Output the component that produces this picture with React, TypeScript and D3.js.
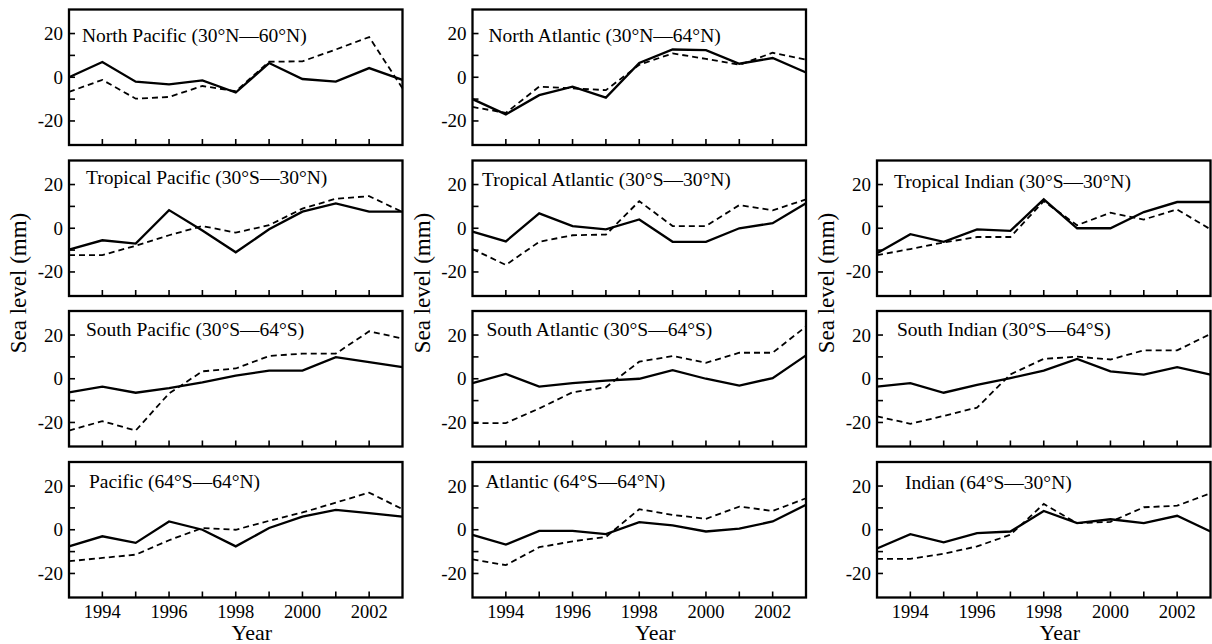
import React from "react";
import * as d3 from "d3";

// ---------- data ----------
const years = [1993, 1994, 1995, 1996, 1997, 1998, 1999, 2000, 2001, 2002, 2003];
const yearTickLabels = [1994, 1996, 1998, 2000, 2002];
const yTickValues = [-20, -10, 0, 10, 20];
const yTickLabels = [-20, 0, 20];

const northPacificSolid = [0, 7, -2, -3.3, -1.4, -7, 6.5, -0.8, -2, 4.2, -1.2];
const northPacificDashed = [-6.7, -1.2, -9.8, -9, -4, -6.4, 7.1, 7.3, 12.7, 18.4, -5.1];
const northAtlanticSolid = [-10, -17, -8.2, -4.3, -9.3, 6.5, 12.7, 12.4, 6.2, 8.8, 2.2];
const northAtlanticDashed = [-13.6, -16.3, -4.3, -5.1, -5.9, 5.7, 10.9, 8.4, 5.7, 11.2, 8.1];
const tropicalPacificSolid = [-9.8, -5.5, -7, 8.3, -1, -11, -0.5, 7.6, 11.4, 7.6, 7.6];
const tropicalPacificDashed = [-12.3, -12.3, -8, -3.2, 1, -2, 1.4, 9, 13.5, 14.7, 7.4];
const tropicalAtlanticSolid = [-1.5, -6, 6.8, 1, -0.5, 4, -6.2, -6.2, 0, 2.3, 11.4];
const tropicalAtlanticDashed = [-9.5, -16.8, -6.2, -3.2, -2.9, 12.4, 1, 1, 10.6, 8.2, 13.2];
const tropicalIndianSolid = [-11.4, -2.7, -6.2, -0.5, -1.2, 13.2, 0, 0, 7.4, 12, 12];
const tropicalIndianDashed = [-12.3, -9.5, -6.5, -4, -4, 12.4, 1.4, 7.1, 4, 8.6, -0.5];
const southPacificSolid = [-6.2, -3.6, -6.4, -4.3, -1.7, 1.4, 3.7, 3.7, 9.9, 7.6, 5.3];
const southPacificDashed = [-23.7, -19.4, -23.7, -6.7, 3.4, 4.7, 10.4, 11.5, 11.5, 21.7, 18.4];
const southAtlanticSolid = [-2, 2.2, -3.6, -2, -0.9, 0, 3.9, 0, -3.1, 0.3, 10.7];
const southAtlanticDashed = [-20.3, -20.3, -13.6, -6.2, -3.9, 7.8, 10.4, 7.3, 11.9, 11.9, 23.9];
const southIndianSolid = [-3.6, -2, -6.4, -2.8, 0.3, 3.7, 9.1, 3.4, 1.9, 5.3, 1.9];
const southIndianDashed = [-17.2, -20.6, -17, -13.2, 2, 9.1, 10.1, 8.8, 13, 13, 20.5];
const pacificSolid = [-7.6, -3, -6, 3.8, 0, -7.6, 0.8, 6, 9.1, 7.6, 6];
const pacificDashed = [-14.4, -12.9, -11.4, -4.8, 0.8, 0, 4.1, 7.9, 12.4, 17, 9.4];
const atlanticSolid = [-2.3, -6.8, -0.5, -0.5, -2, 3.5, 2, -0.8, 0.5, 3.8, 11.4];
const atlanticDashed = [-13.6, -16.2, -8, -5.3, -3.3, 9.4, 6.8, 5, 10.6, 8.6, 14.4];
const indianSolid = [-8.6, -2, -5.8, -1.5, -0.8, 8.6, 3, 4.8, 3, 6.4, -0.8];
const indianDashed = [-13.3, -13.3, -11, -7.6, -2.3, 11.8, 3, 3.6, 10.3, 11, 16.7];

const panelTitles = [
  "North Pacific (30°N—60°N)",
  "North Atlantic (30°N—64°N)",
  "Tropical Pacific (30°S—30°N)",
  "Tropical Atlantic (30°S—30°N)",
  "Tropical Indian (30°S—30°N)",
  "South Pacific (30°S—64°S)",
  "South Atlantic (30°S—64°S)",
  "South Indian (30°S—64°S)",
  "Pacific (64°S—64°N)",
  "Atlantic (64°S—64°N)",
  "Indian (64°S—30°N)",
];
const panelSolid = [
  northPacificSolid, northAtlanticSolid, tropicalPacificSolid, tropicalAtlanticSolid,
  tropicalIndianSolid, southPacificSolid, southAtlanticSolid, southIndianSolid,
  pacificSolid, atlanticSolid, indianSolid,
];
const panelDashed = [
  northPacificDashed, northAtlanticDashed, tropicalPacificDashed, tropicalAtlanticDashed,
  tropicalIndianDashed, southPacificDashed, southAtlanticDashed, southIndianDashed,
  pacificDashed, atlanticDashed, indianDashed,
];

// ---------- layout ----------
const W = 1212;
const H = 644;
const colLeft = [69, 472.5, 877];
const rowTop = [9.5, 160.5, 311, 462];
const panelW = 333.5;
const panelH = 135.5;
// [col, row, title dx, title dy]
const panelGrid: [number, number, number, number][] = [
  [0, 0, 13, 32],
  [1, 0, 16, 32],
  [0, 1, 17, 23.5],
  [1, 1, 9.5, 25.5],
  [2, 1, 17, 27],
  [0, 2, 17, 25],
  [1, 2, 14, 25],
  [2, 2, 20, 25],
  [0, 3, 20, 25.5],
  [1, 3, 13, 25.5],
  [2, 3, 28, 26.5],
];

const FONT = "'Liberation Serif', 'Times New Roman', serif";

function Panel({ idx }: { idx: number }) {
  const [col, row, tdx, tdy] = panelGrid[idx];
  const x0 = colLeft[col];
  const y0 = rowTop[row];
  const x = d3.scaleLinear().domain([1993, 2003]).range([x0, x0 + panelW]);
  const y = d3.scaleLinear().domain([-31, 31]).range([y0 + panelH, y0]);
  const line = d3
    .line<number>()
    .x((_, i) => x(years[i]))
    .y((d) => y(d));
  const isBottom = row === 3;
  return (
    <g>
      <path d={line(panelDashed[idx]) || ""} fill="none" stroke="#000" strokeWidth={1.8} strokeDasharray="6,4" />
      <path d={line(panelSolid[idx]) || ""} fill="none" stroke="#000" strokeWidth={2.3} strokeLinejoin="miter" />
      {yTickValues.map((v) => (
        <line key={"yt" + v} x1={x0} x2={x0 + 6} y1={y(v)} y2={y(v)} stroke="#000" strokeWidth={1.6} />
      ))}
      {years.slice(1, -1).map((yr) => (
        <line key={"xt" + yr} x1={x(yr)} x2={x(yr)} y1={y0 + panelH} y2={y0 + panelH - 6} stroke="#000" strokeWidth={1.6} />
      ))}
      <rect x={x0} y={y0} width={panelW} height={panelH} fill="none" stroke="#000" strokeWidth={2.3} />
      {yTickLabels.map((v) => (
        <text key={"yl" + v} x={x0 - 6} y={y(v)} dy="0.34em" textAnchor="end" fontSize={19} fontFamily={FONT}>
          {v}
        </text>
      ))}
      {isBottom &&
        yearTickLabels.map((yr) => (
          <text key={"xl" + yr} x={x(yr)} y={y0 + panelH + 20} textAnchor="middle" fontSize={18.5} fontFamily={FONT}>
            {yr}
          </text>
        ))}
      <text x={x0 + tdx} y={y0 + tdy} fontSize={19.5} fontFamily={FONT}>
        {panelTitles[idx]}
      </text>
    </g>
  );
}

export default function App() {
  return (
    <svg
      width={W}
      height={H}
      viewBox={`0 0 ${W} ${H}`}
      style={{ position: "absolute", left: 0, top: 0, background: "#fff" }}
    >
      <rect x={0} y={0} width={W} height={H} fill="#fff" />
      {panelTitles.map((_, i) => (
        <Panel key={i} idx={i} />
      ))}
      {colLeft.map((cx, c) => (
        <g key={"lab" + c}>
          <text
            transform={`translate(${cx - 51},283) rotate(-90)`}
            textAnchor="middle"
            dy="0.35em"
            fontSize={23}
            fontFamily={FONT}
          >
            Sea level (mm)
          </text>
          <text x={cx + panelW / 2 + 16} y={640} textAnchor="middle" fontSize={22} fontFamily={FONT}>
            Year
          </text>
        </g>
      ))}
    </svg>
  );
}
